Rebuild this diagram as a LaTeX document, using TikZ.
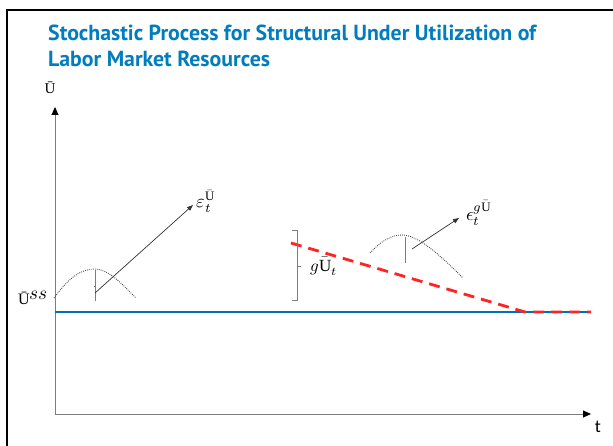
\documentclass[tikz,border=0pt]{standalone}
\usepackage{fontspec}
\usepackage{unicode-math}
\setmainfont{Liberation Serif}
\setmathfont{Latin Modern Math}
\newfontfamily\titlefont{PT Sans}
\newfontfamily\axisfont{Carlito}
\usetikzlibrary{arrows.meta}
\definecolor{titleblue}{RGB}{0,125,190}
\definecolor{lineblue}{RGB}{0,112,185}
\definecolor{dashred}{RGB}{255,35,35}
\definecolor{axisgray}{RGB}{125,125,125}
\tikzset{
  frameline/.style={line width=2.2pt, black},
  axisline/.style={line width=1pt, axisgray, -{Triangle[color=black,width=7pt,length=8pt]}},
  baseline/.style={line width=2.6pt, lineblue},
  trendline/.style={line width=2.8pt, dashred, dash pattern=on 11pt off 7pt},
  bellcurve/.style={line width=0.9pt, black!75, dash pattern=on 0.8pt off 1.2pt},
  errbar/.style={line width=0.7pt, axisgray},
  shockarrow/.style={line width=0.7pt, black!80, -{Triangle[width=4.5pt,length=6pt]}},
  titletext/.style={anchor=base west, inner sep=0pt, text=titleblue, font=\titlefont\bfseries\fontsize{21.8}{26}\selectfont},
  mathlabel/.style={inner sep=0pt}
}
\begin{document}
\begin{tikzpicture}[x=1pt,y=-1pt]
\useasboundingbox (0,0) rectangle (613,446);
\fill[white] (0,0) rectangle (613,446);
% frame
\draw[frameline] (7,446) -- (7,10) -- (613,10);
% title
\node[titletext] (title1) at (48,41) {Stochastic Process for Structural Under Utilization of};
\node[titletext] (title2) at (48,67) {Labor Market Resources};
% axes
\coordinate (O) at (55,414);
\coordinate (ytop) at (55,107);
\coordinate (xend) at (591,414);
\draw[axisline] (O) -- (ytop);
\draw[axisline] (O) -- (xend);
\node[inner sep=0pt, font=\fontsize{15}{17}\selectfont] (ylab) at (50,88) {Ū};
\node[inner sep=0pt, font=\axisfont\fontsize{18}{20}\selectfont] (tlab) at (598,427) {t};
% steady state line
\coordinate (bs) at (55,312);
\coordinate (be) at (591,312);
\draw[baseline] (bs) -- (be);
\node[anchor=base west, inner sep=0pt, font=\fontsize{16}{18}\selectfont] (uss) at (18,305) {Ū\raisebox{5.5pt}{\scalebox{1.2}{$ss$}}};
% red trend
\coordinate (rs) at (291,243);
\coordinate (rm) at (525,312);
\coordinate (re) at (591,312);
\draw[trendline] (rs) -- (rm) -- (re);
% bracket
\coordinate (bt) at (297,230);
\coordinate (bb) at (297,300);
\draw[errbar] (292,230) -- (bt) -- (bb) -- (292,300);
\draw[errbar] (297,266) -- (301,266);
\node[mathlabel] (gu) at (324,266) {\scalebox{1.7}{$g\bar{\mathrm{U}}_t$}};
% first bell curve and shock
\draw[bellcurve] (54,298) .. controls (70,276) and (82,269) .. (95,269) .. controls (108,269) and (121,283) .. (136,298);
\draw[errbar] (95,270) -- (95,301);
\draw[errbar] (94,286) -- (96,286);
\coordinate (a1s) at (95,293);
\node[mathlabel] (eps1) at (206,201) {\scalebox{1.85}{$\varepsilon_t^{\bar{\mathrm{U}}}$}};
\coordinate (a1e) at (193,205);
\draw[shockarrow] (a1s) -- (a1e);
% second bell curve and shock
\draw[bellcurve] (370,253) .. controls (382,240) and (392,235) .. (402,235) .. controls (418,235) and (440,255) .. (463,278);
\draw[errbar] (405,237) -- (405,263);
\coordinate (a2s) at (412,249);
\node[mathlabel] (eps2) at (479,213) {\scalebox{1.85}{$\epsilon_t^{g\bar{\mathrm{U}}}$}};
\coordinate (a2e) at (459,218);
\draw[shockarrow] (a2s) -- (a2e);
\end{tikzpicture}
\end{document}
